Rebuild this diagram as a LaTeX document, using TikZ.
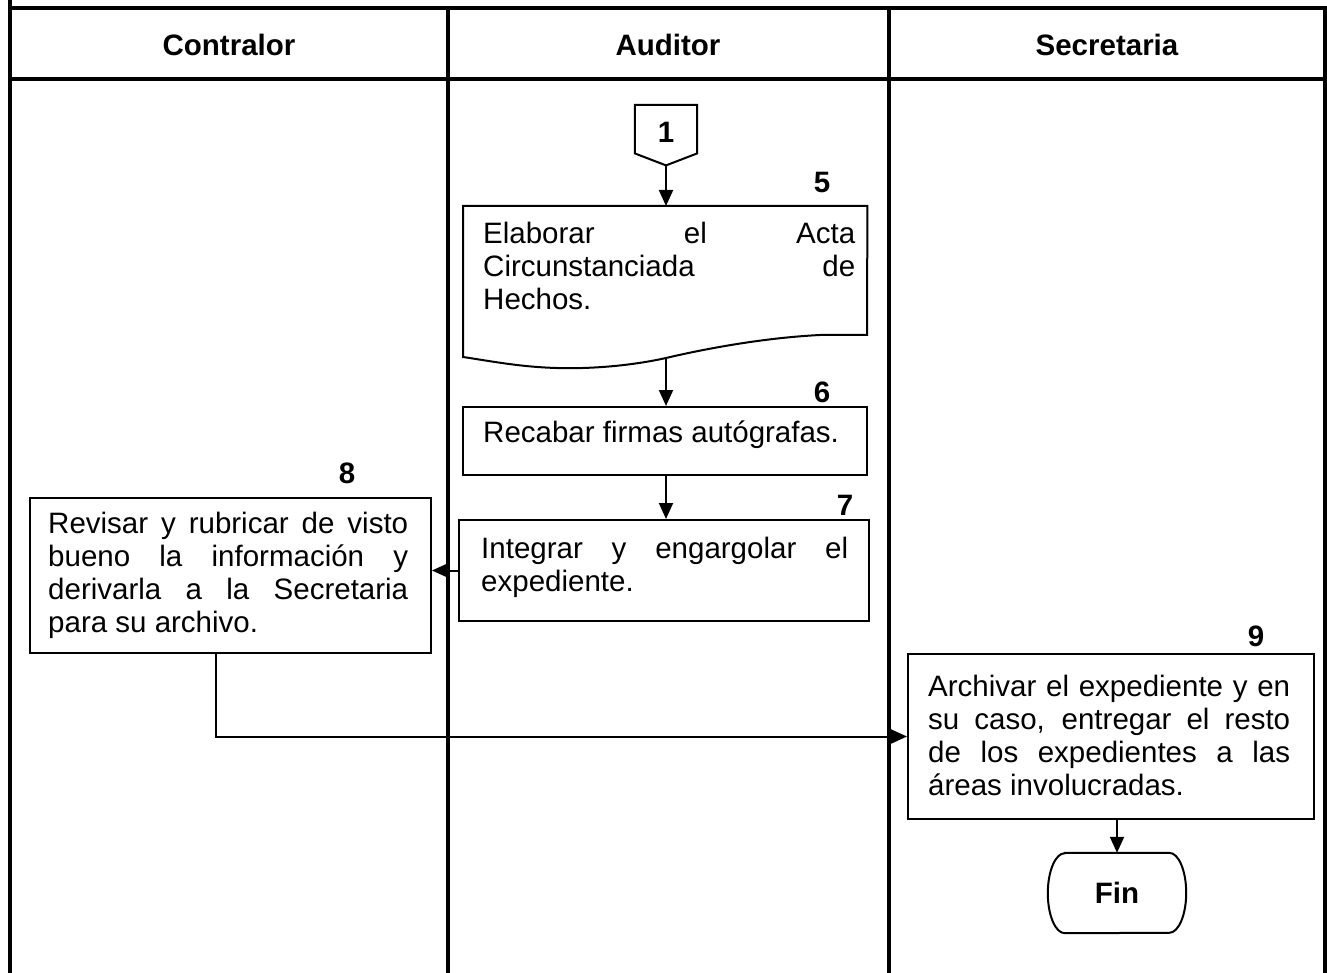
\documentclass[tikz,border=0pt]{standalone}
\usepackage{fontspec}
\setmainfont{Liberation Sans}
\usetikzlibrary{arrows.meta}
\newcommand\jl[1]{\makebox[\linewidth][s]{#1}}
\begin{document}
\begin{tikzpicture}[x=1pt,y=-1pt,
 lane/.style={line width=3.2pt},
 box/.style={draw, line width=2pt, inner sep=0pt, anchor=north west},
 shapebox/.style={draw=none, inner sep=0pt},
 flow/.style={line width=2pt, -{Triangle[width=14pt,length=16pt]}},
 txt/.style={anchor=base west, inner sep=0pt, font=\fontsize{29.5}{33}\selectfont},
 num/.style={anchor=base, inner sep=0pt, font=\fontsize{29.5}{33}\selectfont\bfseries},
 head/.style={inner sep=0pt, font=\fontsize{29.5}{33}\selectfont\bfseries}]
\useasboundingbox (0,0) rectangle (1327,973);

% swimlanes
\draw[lane] (10,0) -- (10,973);
\draw[lane] (448,8) -- (448,973);
\draw[lane] (889,8) -- (889,973);
\draw[lane] (1325,8) -- (1325,973);
\draw[lane] (8.4,8) -- (1327,8);
\draw[lane] (8.4,79) -- (1327,79);
\node[head] (h1) at (229,45) {Contralor};
\node[head] (h2) at (668,45) {Auditor};
\node[head] (h3) at (1107,45) {Secretaria};

% off-page connector 1
\node[shapebox, head, minimum width=62pt, minimum height=60pt, anchor=north] (c1) at (666,105) {};
\draw[line width=2pt] (c1.north west) -- (c1.north east) -- ([yshift=12pt]c1.south east) -- (c1.south) -- ([yshift=12pt]c1.south west) -- cycle;
\node[num] (n1) at (666,143) {1};

% 5 document
\node[shapebox, anchor=north west, minimum width=404pt, minimum height=152pt] (b5) at (463,206) {};
\coordinate (w) at (666,358);
\draw[line width=2pt] (b5.north west) -- (b5.north east) -- (867,335) -- (820,335)
  .. controls (760,338) and (700,350) .. (w)
  .. controls (630,366) and (590,369) .. (557,368)
  .. controls (520,367) and (490,361) .. (463,357) -- cycle;
\node[txt] (t5) at (483,244) {\parbox[t]{372pt}{\jl{Elaborar el Acta}\\\jl{Circunstanciada de}\\Hechos.}};
\node[num] (n5) at (822,193) {5};

% 6
\node[box, minimum width=404pt, minimum height=68pt] (b6) at (462,406) {};
\node[txt] (t6) at (483,442) {Recabar firmas autógrafas.};
\node[num] (n6) at (822,402) {6};

% 7
\node[box, minimum width=410pt, minimum height=101pt] (b7) at (458,519) {};
\node[txt] (t7) at (481,558) {\parbox[t]{367pt}{\jl{Integrar y engargolar el}\\expediente.}};
\node[num] (n7) at (845,515) {7};

% 8
\node[box, minimum width=401pt, minimum height=155pt] (b8) at (29,497) {};
\node[txt] (t8) at (48,533) {\parbox[t]{360pt}{\jl{Revisar y rubricar de visto}\\\jl{bueno la información y}\\\jl{derivarla a la Secretaria}\\para su archivo.}};
\node[num] (n8) at (347,483) {8};

% 9
\node[box, minimum width=406pt, minimum height=165pt] (b9) at (907,653) {};
\node[txt] (t9) at (928,696) {\parbox[t]{362pt}{\jl{Archivar el expediente y en}\\\jl{su caso, entregar el resto}\\\jl{de los expedientes a las}\\áreas involucradas.}};
\node[num] (n9) at (1256,646) {9};

% Fin terminator
\node[shapebox, head, minimum width=138pt, minimum height=80pt] (fin) at (1117,893) {Fin};
\draw[line width=2pt] ([xshift=17pt]fin.north west) -- ([xshift=-17pt]fin.north east)
  arc[start angle=90, end angle=-90, x radius=17pt, y radius=40pt]
  -- ([xshift=17pt]fin.south west)
  arc[start angle=270, end angle=90, x radius=17pt, y radius=40pt] -- cycle;

% connectors
\draw[flow] (c1.south) -- (c1.south |- b5.north);
\draw[flow] (w) -- (w |- b6.north);
\draw[flow] (b6.south -| w) -- (w |- b7.north);
\draw[flow] (b7.west) -- (b7.west -| b8.east);
\draw[flow] ([xshift=-14.5pt]b8.south) |- (b9.west);
\draw[flow] (b9.south -| fin.north) -- (fin.north);
\end{tikzpicture}
\end{document}
